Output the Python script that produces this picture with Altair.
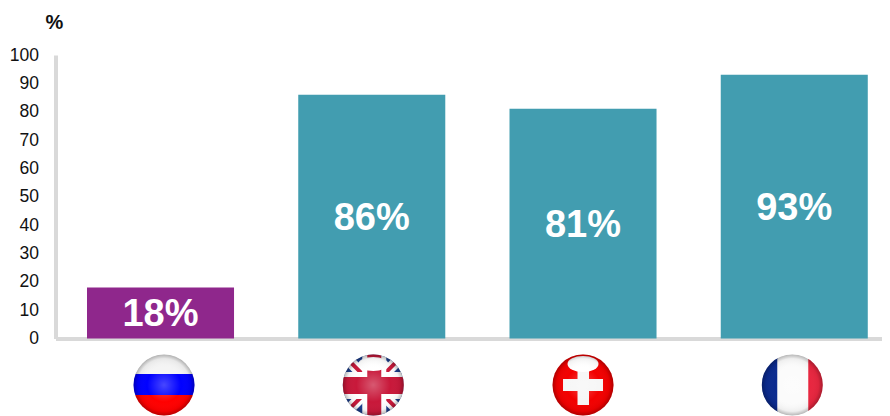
import base64
import altair as alt
import pandas as pd

countries = ["Russia", "UK", "Switzerland", "France"]
values = [18, 86, 81, 93]
labels = ["18%", "86%", "81%", "93%"]
colors = ["#8F278C", "#429DB0", "#429DB0", "#429DB0"]
flag_nudges = [3.5, 1.5, 0, -2]

GLOSS = """
<defs>
<clipPath id="c"><circle cx="31" cy="31" r="30.5"/></clipPath>
<radialGradient id="g" cx="50%" cy="50%" r="50%">
<stop offset="0" stop-color="#fff" stop-opacity=".28"/>
<stop offset=".55" stop-color="#fff" stop-opacity="0"/>
<stop offset=".85" stop-color="#000" stop-opacity=".05"/>
<stop offset="1" stop-color="#000" stop-opacity=".3"/>
</radialGradient>
</defs>
"""


def flag(body):
    svg = (
        '<svg xmlns="http://www.w3.org/2000/svg" width="62" height="62" viewBox="0 0 62 62">'
        + GLOSS
        + '<g clip-path="url(#c)">'
        + body
        + '<circle cx="31" cy="31" r="31" fill="url(#g)"/></g></svg>'
    )
    return "data:image/svg+xml;base64," + base64.b64encode(svg.encode()).decode()


russia = (
    '<rect width="62" height="21" fill="#f4f4f4"/>'
    '<rect y="20" width="62" height="21" fill="#0000ff"/>'
    '<rect y="41" width="62" height="21" fill="#ff0000"/>'
)
uk = (
    '<rect width="62" height="62" fill="#1c3f8f"/>'
    '<path d="M0 0L62 62M62 0L0 62" stroke="#fff" stroke-width="11"/>'
    '<path d="M0 0L62 62M62 0L0 62" stroke="#c8183a" stroke-width="4"/>'
    '<rect x="20" width="24" height="62" fill="#fff"/>'
    '<rect y="18" width="62" height="27" fill="#fff"/>'
    '<rect x="25" width="14" height="62" fill="#c8183a"/>'
    '<rect y="23" width="62" height="17" fill="#c8183a"/>'
    '<ellipse cx="31" cy="10" rx="15" ry="7" fill="#fff"/>'
)
swiss = (
    '<rect width="62" height="62" fill="#f20000"/>'
    '<rect x="25.5" y="12" width="11.5" height="39" fill="#f6f6f6"/>'
    '<rect x="11" y="25" width="40" height="12" fill="#f6f6f6"/>'
    '<ellipse cx="31" cy="10" rx="15.5" ry="8" fill="#fff"/>'
)
france = (
    '<rect width="17" height="62" fill="#0a2a8f"/>'
    '<rect x="16" width="32" height="62" fill="#fbfbfb"/>'
    '<rect x="47" width="15" height="62" fill="#e8263f"/>'
)
flags = [flag(russia), flag(uk), flag(swiss), flag(france)]

df = pd.DataFrame(
    {"country": countries, "value": values, "label": labels, "color": colors, "flag": flags}
)

x_axis = alt.Axis(labels=False, ticks=False, title=None, domainColor="#d9d9d9",
                  domainWidth=4, grid=False)
x = alt.X("country:N", sort=countries,
          scale=alt.Scale(paddingInner=0.304, paddingOuter=0.1082, align=0.689),
          axis=x_axis)
y_axis = alt.Axis(values=list(range(0, 101, 10)), grid=False, ticks=False,
                  domainColor="#d9d9d9", domainWidth=4, labelPadding=17,
                  labelOverlap=False, labelOffset=0,
                  labelFont="Liberation Sans", labelFontSize=17.5, labelColor="#111111",
                  title="%", titleAngle=0, titleFont="Liberation Sans", titleFontSize=20,
                  titleFontWeight="bold", titleColor="#111111", titleX=-1.5, titleY=-33,
                  titleAlign="center", titleBaseline="middle")
y_scale = alt.Scale(domain=[0, 100], nice=False)

bars = alt.Chart(df).mark_bar().encode(
    x=x, y=alt.Y("value:Q", scale=y_scale, axis=y_axis),
    color=alt.Color("color:N", scale=None), tooltip=alt.value(None)
)
text = alt.Chart(df).transform_calculate(mid="datum.value / 2").mark_text(
    font="Liberation Sans", fontSize=38, fontWeight="bold", color="white", baseline="middle", dy=2.5
).encode(
    x=x,
    y=alt.Y("mid:Q", scale=y_scale, axis=y_axis),
    text="label:N",
)
flag_layers = [
    alt.Chart(df[df.country == c]).mark_image(width=62, height=62, xOffset=n).encode(
        x=x,
        y=alt.value(330),
        url="flag:N",
    )
    for c, n in zip(countries, flag_nudges)
]

chart = alt.layer(bars, text, *flag_layers).properties(
    width=826.5,
    height=283.5,
    autosize=alt.AutoSizeParams(type="none"),
    padding={"left": 47.5, "top": 47, "right": 0, "bottom": 77},
).configure_view(stroke=None)

chart.save("out.html", embed_options={"renderer": "svg", "actions": False})
